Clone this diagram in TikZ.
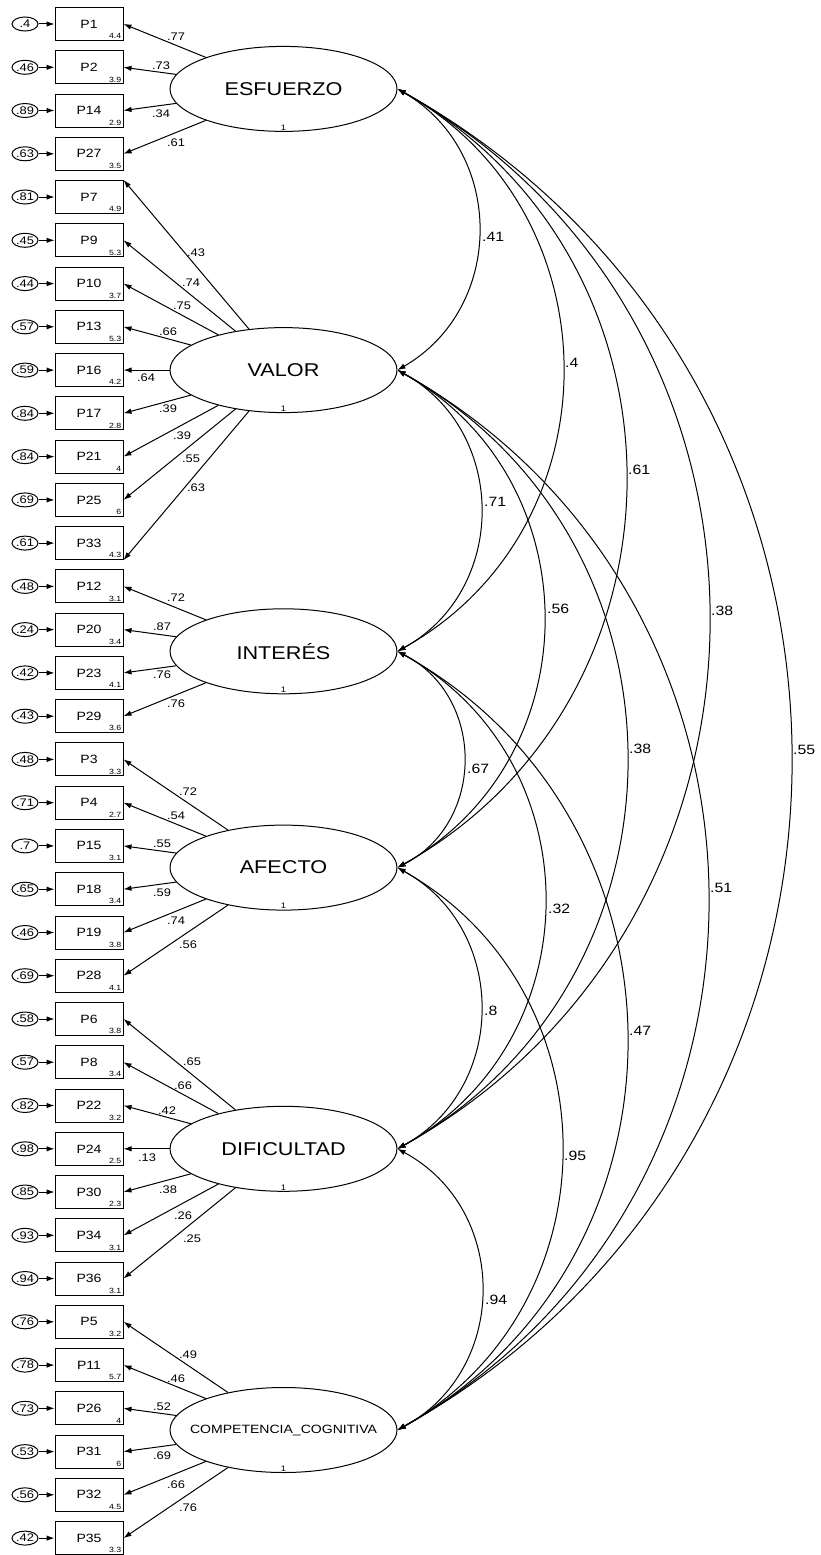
\documentclass[tikz,border=0pt]{standalone}
\usepackage{fontspec}
\setmainfont{Liberation Sans}[FakeStretch=1.17]
\usetikzlibrary{shapes.geometric,arrows.meta}

\begin{document}
\begin{tikzpicture}[x=1pt,y=-1pt,
  latent/.style={draw,ellipse,line width=1pt,minimum width=227pt,minimum height=85pt,inner sep=0pt,font=\fontsize{18.5}{20}\selectfont},
  item/.style={draw,rectangle,line width=1pt,minimum width=68pt,minimum height=33pt,inner sep=0pt,font=\fontsize{12}{13}\selectfont},
  mean/.style={anchor=south east,inner sep=2pt,font=\fontsize{7.5}{8}\selectfont},
  err/.style={draw,ellipse,line width=1pt,minimum width=26pt,minimum height=14pt,inner sep=0pt,font=\fontsize{11}{12}\selectfont},
  fixvar/.style={anchor=south,inner sep=1.5pt,font=\fontsize{8}{9}\selectfont},
  loadlabel/.style={inner sep=0pt,font=\fontsize{11}{12}\selectfont},
  covlabel/.style={anchor=west,inner sep=0pt,font=\fontsize{13.5}{15}\selectfont},
  reg/.style={-{Latex[length=8pt,width=5.5pt]},line width=1pt},
  cov/.style={{Latex[length=8pt,width=5.5pt]}-{Latex[length=8pt,width=5.5pt]},line width=1pt}]
\useasboundingbox (0,0) rectangle (820,1555);

% factores
\node[latent] (esf) at (283.5,88.9) {ESFUERZO};
\node[fixvar] (esf1) at (esf.south) {1};
\node[latent] (val) at (283.5,370.1) {VALOR};
\node[fixvar] (val1) at (val.south) {1};
\node[latent] (int) at (283.5,651.3) {INTERÉS};
\node[fixvar] (int1) at (int.south) {1};
\node[latent] (afe) at (283.5,867.6) {AFECTO};
\node[fixvar] (afe1) at (afe.south) {1};
\node[latent] (dif) at (283.5,1148.8) {DIFICULTAD};
\node[fixvar] (dif1) at (dif.south) {1};
\node[latent,font=\fontsize{12}{14}\selectfont] (com) at (283.5,1430.0) {\makebox[0pt]{COMPETENCIA\_COGNITIVA}};
\node[fixvar] (com1) at (com.south) {1};

% ESFUERZO
\node[item] (p1) at (89,24.0) {P1}; \node[mean] (m1) at (p1.south east) {4.4};
\node[item] (p2) at (89,67.3) {P2}; \node[mean] (m2) at (p2.south east) {3.9};
\node[item] (p14) at (89,110.5) {P14}; \node[mean] (m14) at (p14.south east) {2.9};
\node[item] (p27) at (89,153.8) {P27}; \node[mean] (m27) at (p27.south east) {3.5};
\node[err] (e1) at (25,24.0) {.4};
\node[err] (e2) at (25,67.3) {.46};
\node[err] (e14) at (25,110.5) {.89};
\node[err] (e27) at (25,153.8) {.63};
\draw[reg] (e1) -- (p1);
\draw[reg] (e2) -- (p2);
\draw[reg] (e14) -- (p14);
\draw[reg] (e27) -- (p27);
\draw[reg] (esf) -- (p1.east);
\draw[reg] (esf) -- (p2.east);
\draw[reg] (esf) -- (p14.east);
\draw[reg] (esf) -- (p27.east);
\node[loadlabel] (l1) at (176,37) {.77};
\node[loadlabel] (l2) at (161,66) {.73};
\node[loadlabel] (l14) at (161,114) {.34};
\node[loadlabel] (l27) at (176,143) {.61};

% VALOR
\node[item] (p7) at (89,197.0) {P7}; \node[mean] (m7) at (p7.south east) {4.9};
\node[item] (p9) at (89,240.3) {P9}; \node[mean] (m9) at (p9.south east) {5.3};
\node[item] (p10) at (89,283.6) {P10}; \node[mean] (m10) at (p10.south east) {3.7};
\node[item] (p13) at (89,326.8) {P13}; \node[mean] (m13) at (p13.south east) {5.3};
\node[item] (p16) at (89,370.1) {P16}; \node[mean] (m16) at (p16.south east) {4.2};
\node[item] (p17) at (89,413.3) {P17}; \node[mean] (m17) at (p17.south east) {2.8};
\node[item] (p21) at (89,456.6) {P21}; \node[mean] (m21) at (p21.south east) {4};
\node[item] (p25) at (89,499.9) {P25}; \node[mean] (m25) at (p25.south east) {6};
\node[item] (p33) at (89,543.1) {P33}; \node[mean] (m33) at (p33.south east) {4.3};
\node[err] (e7) at (25,197.0) {.81};
\node[err] (e9) at (25,240.3) {.45};
\node[err] (e10) at (25,283.6) {.44};
\node[err] (e13) at (25,326.8) {.57};
\node[err] (e16) at (25,370.1) {.59};
\node[err] (e17) at (25,413.3) {.84};
\node[err] (e21) at (25,456.6) {.84};
\node[err] (e25) at (25,499.9) {.69};
\node[err] (e33) at (25,543.1) {.61};
\draw[reg] (e7) -- (p7);
\draw[reg] (e9) -- (p9);
\draw[reg] (e10) -- (p10);
\draw[reg] (e13) -- (p13);
\draw[reg] (e16) -- (p16);
\draw[reg] (e17) -- (p17);
\draw[reg] (e21) -- (p21);
\draw[reg] (e25) -- (p25);
\draw[reg] (e33) -- (p33);
\draw[reg] (val) -- (p7.north east);
\draw[reg] (val) -- (p9.east);
\draw[reg] (val) -- (p10.east);
\draw[reg] (val) -- (p13.east);
\draw[reg] (val) -- (p16.east);
\draw[reg] (val) -- (p17.east);
\draw[reg] (val) -- (p21.east);
\draw[reg] (val) -- (p25.east);
\draw[reg] (val) -- (p33.south east);
\node[loadlabel] (l7) at (196,253) {.43};
\node[loadlabel] (l9) at (191,283) {.74};
\node[loadlabel] (l10) at (182,306) {.75};
\node[loadlabel] (l13) at (168,332) {.66};
\node[loadlabel] (l16) at (146,378) {.64};
\node[loadlabel] (l17) at (168,409) {.39};
\node[loadlabel] (l21) at (182,436) {.39};
\node[loadlabel] (l25) at (191,459) {.55};
\node[loadlabel] (l33) at (196,488) {.63};

% INTERES
\node[item] (p12) at (89,586.4) {P12}; \node[mean] (m12) at (p12.south east) {3.1};
\node[item] (p20) at (89,629.6) {P20}; \node[mean] (m20) at (p20.south east) {3.4};
\node[item] (p23) at (89,672.9) {P23}; \node[mean] (m23) at (p23.south east) {4.1};
\node[item] (p29) at (89,716.2) {P29}; \node[mean] (m29) at (p29.south east) {3.6};
\node[err] (e12) at (25,586.4) {.48};
\node[err] (e20) at (25,629.6) {.24};
\node[err] (e23) at (25,672.9) {.42};
\node[err] (e29) at (25,716.2) {.43};
\draw[reg] (e12) -- (p12);
\draw[reg] (e20) -- (p20);
\draw[reg] (e23) -- (p23);
\draw[reg] (e29) -- (p29);
\draw[reg] (int) -- (p12.east);
\draw[reg] (int) -- (p20.east);
\draw[reg] (int) -- (p23.east);
\draw[reg] (int) -- (p29.east);
\node[loadlabel] (l12) at (176,598) {.72};
\node[loadlabel] (l20) at (162,627) {.87};
\node[loadlabel] (l23) at (162,675) {.76};
\node[loadlabel] (l29) at (176,704) {.76};

% AFECTO
\node[item] (p3) at (89,759.4) {P3}; \node[mean] (m3) at (p3.south east) {3.3};
\node[item] (p4) at (89,802.7) {P4}; \node[mean] (m4) at (p4.south east) {2.7};
\node[item] (p15) at (89,845.9) {P15}; \node[mean] (m15) at (p15.south east) {3.1};
\node[item] (p18) at (89,889.2) {P18}; \node[mean] (m18) at (p18.south east) {3.4};
\node[item] (p19) at (89,932.5) {P19}; \node[mean] (m19) at (p19.south east) {3.8};
\node[item] (p28) at (89,975.7) {P28}; \node[mean] (m28) at (p28.south east) {4.1};
\node[err] (e3) at (25,759.4) {.48};
\node[err] (e4) at (25,802.7) {.71};
\node[err] (e15) at (25,845.9) {.7};
\node[err] (e18) at (25,889.2) {.65};
\node[err] (e19) at (25,932.5) {.46};
\node[err] (e28) at (25,975.7) {.69};
\draw[reg] (e3) -- (p3);
\draw[reg] (e4) -- (p4);
\draw[reg] (e15) -- (p15);
\draw[reg] (e18) -- (p18);
\draw[reg] (e19) -- (p19);
\draw[reg] (e28) -- (p28);
\draw[reg] (afe) -- (p3.east);
\draw[reg] (afe) -- (p4.east);
\draw[reg] (afe) -- (p15.east);
\draw[reg] (afe) -- (p18.east);
\draw[reg] (afe) -- (p19.east);
\draw[reg] (afe) -- (p28.east);
\node[loadlabel] (l3) at (188,792) {.72};
\node[loadlabel] (l4) at (176,816) {.54};
\node[loadlabel] (l15) at (162,844) {.55};
\node[loadlabel] (l18) at (162,893) {.59};
\node[loadlabel] (l19) at (176,921) {.74};
\node[loadlabel] (l28) at (188,945) {.56};

% DIFICULTAD
\node[item] (p6) at (89,1019.0) {P6}; \node[mean] (m6) at (p6.south east) {3.8};
\node[item] (p8) at (89,1062.2) {P8}; \node[mean] (m8) at (p8.south east) {3.4};
\node[item] (p22) at (89,1105.5) {P22}; \node[mean] (m22) at (p22.south east) {3.2};
\node[item] (p24) at (89,1148.8) {P24}; \node[mean] (m24) at (p24.south east) {2.5};
\node[item] (p30) at (89,1192.0) {P30}; \node[mean] (m30) at (p30.south east) {2.3};
\node[item] (p34) at (89,1235.3) {P34}; \node[mean] (m34) at (p34.south east) {3.1};
\node[item] (p36) at (89,1278.5) {P36}; \node[mean] (m36) at (p36.south east) {3.1};
\node[err] (e6) at (25,1019.0) {.58};
\node[err] (e8) at (25,1062.2) {.57};
\node[err] (e22) at (25,1105.5) {.82};
\node[err] (e24) at (25,1148.8) {.98};
\node[err] (e30) at (25,1192.0) {.85};
\node[err] (e34) at (25,1235.3) {.93};
\node[err] (e36) at (25,1278.5) {.94};
\draw[reg] (e6) -- (p6);
\draw[reg] (e8) -- (p8);
\draw[reg] (e22) -- (p22);
\draw[reg] (e24) -- (p24);
\draw[reg] (e30) -- (p30);
\draw[reg] (e34) -- (p34);
\draw[reg] (e36) -- (p36);
\draw[reg] (dif) -- (p6.east);
\draw[reg] (dif) -- (p8.east);
\draw[reg] (dif) -- (p22.east);
\draw[reg] (dif) -- (p24.east);
\draw[reg] (dif) -- (p30.east);
\draw[reg] (dif) -- (p34.east);
\draw[reg] (dif) -- (p36.east);
\node[loadlabel] (l6) at (192,1062) {.65};
\node[loadlabel] (l8) at (183,1086) {.66};
\node[loadlabel] (l22) at (167,1111) {.42};
\node[loadlabel] (l24) at (147,1158) {.13};
\node[loadlabel] (l30) at (168,1190) {.38};
\node[loadlabel] (l34) at (183,1216) {.26};
\node[loadlabel] (l36) at (192,1239) {.25};

% COMPETENCIA_COGNITIVA
\node[item] (p5) at (89,1321.8) {P5}; \node[mean] (m5) at (p5.south east) {3.2};
\node[item] (p11) at (89,1365.1) {P11}; \node[mean] (m11) at (p11.south east) {5.7};
\node[item] (p26) at (89,1408.3) {P26}; \node[mean] (m26) at (p26.south east) {4};
\node[item] (p31) at (89,1451.6) {P31}; \node[mean] (m31) at (p31.south east) {6};
\node[item] (p32) at (89,1494.8) {P32}; \node[mean] (m32) at (p32.south east) {4.5};
\node[item] (p35) at (89,1538.1) {P35}; \node[mean] (m35) at (p35.south east) {3.3};
\node[err] (e5) at (25,1321.8) {.76};
\node[err] (e11) at (25,1365.1) {.78};
\node[err] (e26) at (25,1408.3) {.73};
\node[err] (e31) at (25,1451.6) {.53};
\node[err] (e32) at (25,1494.8) {.56};
\node[err] (e35) at (25,1538.1) {.42};
\draw[reg] (e5) -- (p5);
\draw[reg] (e11) -- (p11);
\draw[reg] (e26) -- (p26);
\draw[reg] (e31) -- (p31);
\draw[reg] (e32) -- (p32);
\draw[reg] (e35) -- (p35);
\draw[reg] (com) -- (p5.east);
\draw[reg] (com) -- (p11.east);
\draw[reg] (com) -- (p26.east);
\draw[reg] (com) -- (p31.east);
\draw[reg] (com) -- (p32.east);
\draw[reg] (com) -- (p35.east);
\node[loadlabel] (l5) at (188,1355) {.49};
\node[loadlabel] (l11) at (176,1379) {.46};
\node[loadlabel] (l26) at (162,1407) {.52};
\node[loadlabel] (l31) at (162,1456) {.69};
\node[loadlabel] (l32) at (176,1485) {.66};
\node[loadlabel] (l35) at (188,1508) {.76};

% correlaciones
\draw[cov] (esf.east) .. controls +(108,62.6) and +(108,-62.6) .. (val.east);
\draw[cov] (esf.east) .. controls +(220,122.9) and +(220,-122.9) .. (int.east);
\draw[cov] (esf.east) .. controls +(304,170.6) and +(304,-170.6) .. (afe.east);
\draw[cov] (esf.east) .. controls +(414.7,231.6) and +(414.7,-231.6) .. (dif.east);
\draw[cov] (esf.east) .. controls +(524,293.5) and +(524,-293.5) .. (com.east);
\draw[cov] (val.east) .. controls +(110.7,61.1) and +(110.7,-61.1) .. (int.east);
\draw[cov] (val.east) .. controls +(194.7,108.7) and +(194.7,-108.7) .. (afe.east);
\draw[cov] (val.east) .. controls +(305.3,169.8) and +(305.3,-169.8) .. (dif.east);
\draw[cov] (val.east) .. controls +(413.3,232.4) and +(413.3,-232.4) .. (com.east);
\draw[cov] (int.east) .. controls +(88,45.2) and +(88,-45.2) .. (afe.east);
\draw[cov] (int.east) .. controls +(196,107.9) and +(196,-107.9) .. (dif.east);
\draw[cov] (int.east) .. controls +(305.3,169.8) and +(305.3,-169.8) .. (com.east);
\draw[cov] (afe.east) .. controls +(110.7,61.1) and +(110.7,-61.1) .. (dif.east);
\draw[cov] (afe.east) .. controls +(218.7,123.7) and +(218.7,-123.7) .. (com.east);
\draw[cov] (dif.east) .. controls +(112,60.3) and +(112,-60.3) .. (com.east);
\node[covlabel] (r1) at (482,237) {.41};
\node[covlabel] (r2) at (565,363) {.4};
\node[covlabel] (r3) at (628,470) {.61};
\node[covlabel] (r4) at (711,611) {.38};
\node[covlabel] (r5) at (793,750) {.55};
\node[covlabel] (r6) at (484,502) {.71};
\node[covlabel] (r7) at (547,609) {.56};
\node[covlabel] (r8) at (629,749) {.38};
\node[covlabel] (r9) at (710,888) {.51};
\node[covlabel] (r10) at (467,769) {.67};
\node[covlabel] (r11) at (548,909) {.32};
\node[covlabel] (r12) at (629,1031) {.47};
\node[covlabel] (r13) at (484,1011) {.8};
\node[covlabel] (r14) at (564,1156) {.95};
\node[covlabel] (r15) at (485,1300) {.94};
\end{tikzpicture}
\end{document}
